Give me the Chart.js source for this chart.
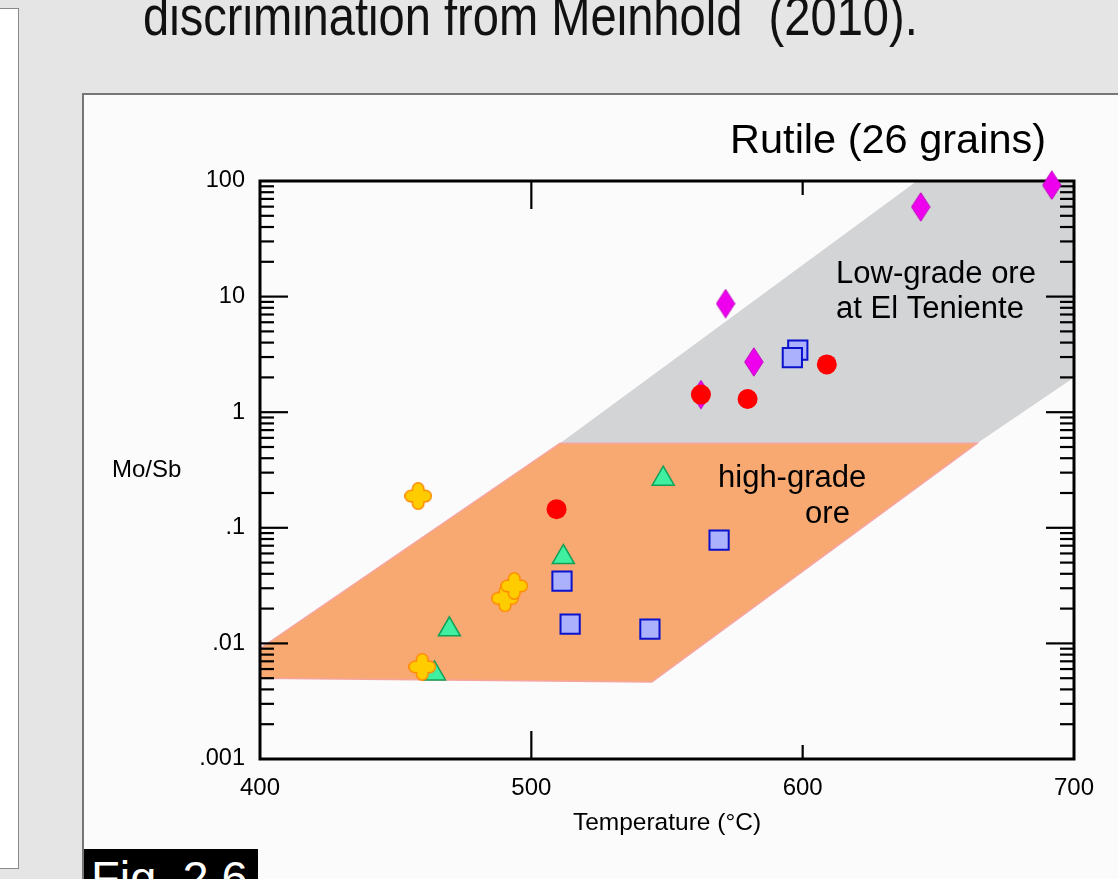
<!DOCTYPE html>
<html><head><meta charset="utf-8">
<script src="https://cdn.jsdelivr.net/npm/chart.js@4.4.1/dist/chart.umd.min.js"></script>
<style>
html,body{margin:0;padding:0;width:1118px;height:879px;overflow:hidden;background:#e5e5e5;font-family:"Liberation Sans",Arial,sans-serif}
#leftpanel{position:absolute;left:-2px;top:8px;width:19px;height:859px;background:#fff;border:1px solid #8a8a8a}
#panel{position:absolute;left:82px;top:93px;width:1100px;height:900px;background:#fbfbfb;border-left:2px solid #767676;border-top:2px solid #767676}
#heading{position:absolute;left:143px;top:-12px;font-size:56px;line-height:56px;color:#111;white-space:pre;transform:scaleX(0.841);transform-origin:0 0}
#fig{position:absolute;left:84px;top:849px;width:174px;height:40px;background:#000;overflow:hidden}
#fig span{position:absolute;left:7px;top:5px;color:#fff;font-size:47px;line-height:47px;white-space:pre}
#wrap{position:absolute;left:0;top:0;width:1118px;height:879px}
</style></head>
<body>
<div id="leftpanel"></div>
<div id="heading">discrimination from Meinhold  (2010).</div>
<div id="panel"></div>
<div id="fig"><span>Fig. 2.6</span></div>
<div id="wrap"><canvas id="c" width="1118" height="879"></canvas></div>
<script>
// ---------- data ----------
const chartTitle = 'Rutile (26 grains)';
const xAxisTitle = 'Temperature (°C)';
const yAxisTitle = 'Mo/Sb';
const xTickValues = [400, 500, 600, 700];
const xTickLabels = ['400', '500', '600', '700'];
const yTickValues = [0.001, 0.01, 0.1, 1, 10, 100];
const yTickLabels = ['.001', '.01', '.1', '1', '10', '100'];

// red circles
const redT = [562.5, 579.7, 608.9, 509.3];
const redR = [1.42, 1.30, 2.59, 0.145];
// magenta diamonds
const magT = [562.5, 571.6, 582.0, 643.5, 691.8];
const magR = [1.42, 8.7, 2.72, 59.7, 92.0];
// blue squares
const bluT = [598.2, 596.2, 569.2, 511.3, 514.3, 543.7];
const bluR = [3.44, 2.97, 0.0783, 0.0345, 0.0147, 0.0133];
// green triangles
const grnT = [548.6, 511.8, 469.8, 464.3];
const grnR = [0.265, 0.0557, 0.0132, 0.00548];
// orange crosses
const orgT = [458.3, 490.3, 493.7, 459.8];
const orgR = [0.188, 0.0245, 0.0314, 0.00626];

// field polygons
const lowGradeT = [510.6, 642.1, 700, 700, 664.3, 510.6];
const lowGradeR = [0.54, 100, 100, 2.0, 0.54, 0.54];
const highGradeT = [400, 510.6, 664.3, 544.4, 400, 400];
const highGradeR = [0.009, 0.54, 0.54, 0.00464, 0.005, 0.009];

// annotations (data coordinates)
const lowGradeLabel = ['Low-grade ore', 'at El Teniente'];
const lowGradeLabelT = 612.3, lowGradeLabelR = [13.06, 6.5];
const highGradeLabel = ['high-grade', 'ore'];
const highGradeLabelT = [568.8, 600.9], highGradeLabelR = [0.2244, 0.1096];

// ---------- helpers ----------
const FONT = '"Liberation Sans", Arial, sans-serif';
const zip = (a, b) => a.map((x, i) => ({x: x, y: b[i]}));

function makeDiamond() {
  const c = document.createElement('canvas'); c.width = 20; c.height = 30;
  const g = c.getContext('2d');
  g.beginPath(); g.moveTo(10, 0.8); g.lineTo(19.2, 15); g.lineTo(10, 29.2); g.lineTo(0.8, 15); g.closePath();
  g.fillStyle = '#ee00ee'; g.fill(); g.strokeStyle = '#c000c0'; g.lineWidth = 1; g.stroke();
  return c;
}
function rr(g, x, y, w, h, r) {
  g.moveTo(x + r, y); g.lineTo(x + w - r, y); g.arc(x + w - r, y + r, r, -Math.PI / 2, 0);
  g.lineTo(x + w, y + h - r); g.arc(x + w - r, y + h - r, r, 0, Math.PI / 2);
  g.lineTo(x + r, y + h); g.arc(x + r, y + h - r, r, Math.PI / 2, Math.PI);
  g.lineTo(x, y + r); g.arc(x + r, y + r, r, Math.PI, Math.PI * 1.5); g.closePath();
}
function makeCross() {
  const c = document.createElement('canvas'); c.width = 28; c.height = 28;
  const g = c.getContext('2d');
  const shape = () => { g.beginPath(); rr(g, 1.5, 9, 25, 10, 5); rr(g, 9, 1.5, 10, 25, 5); };
  shape(); g.strokeStyle = '#ff8a00'; g.lineWidth = 3; g.stroke();
  shape(); g.fillStyle = '#ffcc00'; g.fill('nonzero');
  return c;
}
const diamondImg = makeDiamond();
const crossImg = makeCross();

const HIGH_INDEX = 1;
const framePlugin = {
  id: 'frame',
  afterDatasetDraw(chart, args) {
    if (args.index !== HIGH_INDEX) return;
    const ctx = chart.ctx, a = chart.chartArea, xs = chart.scales.x, ys = chart.scales.y;
    ctx.save();
    ctx.strokeStyle = '#000'; ctx.lineCap = 'butt';
    ctx.lineWidth = 2.2;
    const line = (x1, y1, x2, y2) => { ctx.beginPath(); ctx.moveTo(x1, y1); ctx.lineTo(x2, y2); ctx.stroke(); };
    for (let d = 0; d < yTickValues.length - 1; d++) {
      const dec = yTickValues[d];
      for (let m = 2; m <= 9; m++) {
        const p = ys.getPixelForValue(dec * m);
        line(a.left, p, a.left + 14, p); line(a.right, p, a.right - 14, p);
      }
      if (d > 0) {
        const p = ys.getPixelForValue(dec);
        line(a.left, p, a.left + 28, p); line(a.right, p, a.right - 28, p);
      }
    }
    [[500, 28], [600, 14]].forEach(([v, len]) => {
      const p = xs.getPixelForValue(v);
      line(p, a.bottom, p, a.bottom - len); line(p, a.top, p, a.top + len);
    });
    ctx.lineWidth = 3;
    ctx.strokeRect(a.left, a.top, a.right - a.left, a.bottom - a.top);
    ctx.restore();
  }
};

const textPlugin = {
  id: 'texts',
  afterDraw(chart) {
    const ctx = chart.ctx, a = chart.chartArea, xs = chart.scales.x, ys = chart.scales.y;
    ctx.save();
    ctx.fillStyle = '#000'; ctx.textBaseline = 'alphabetic';
    ctx.font = '41.5px ' + FONT; ctx.textAlign = 'right';
    ctx.fillText(chartTitle, xs.getPixelForValue(689.7), a.top - 28);
    ctx.font = '31px ' + FONT; ctx.textAlign = 'left';
    lowGradeLabel.forEach((t, i) => ctx.fillText(t, xs.getPixelForValue(lowGradeLabelT), ys.getPixelForValue(lowGradeLabelR[i])));
    highGradeLabel.forEach((t, i) => ctx.fillText(t, xs.getPixelForValue(highGradeLabelT[i]), ys.getPixelForValue(highGradeLabelR[i])));
    ctx.font = '24px ' + FONT; ctx.textAlign = 'left';
    ctx.fillText(yAxisTitle, a.left - 148, ys.getPixelForValue(0.274));
    ctx.restore();
  }
};

new Chart(document.getElementById('c'), {
  type: 'scatter',
  data: {
    datasets: [
      { label: 'Low-grade field', data: zip(lowGradeT, lowGradeR), showLine: true, fill: 'shape',
        backgroundColor: '#d3d4d6', borderColor: 'rgba(0,0,0,0)', borderWidth: 0, pointRadius: 0, tension: 0, order: 20 },
      { label: 'High-grade field', data: zip(highGradeT, highGradeR), showLine: true, fill: 'shape',
        backgroundColor: '#f8a971', borderColor: '#f6a4a0', borderWidth: 1.5, pointRadius: 0, tension: 0, order: 10 },
      { label: 'circles', data: zip(redT, redR), pointStyle: 'circle', pointRadius: 10, clip: false,
        pointBackgroundColor: '#ff0000', pointBorderColor: '#ff0000', pointBorderWidth: 0, order: 1 },
      { label: 'crosses', data: zip(orgT, orgR), pointStyle: crossImg, pointRadius: 13, clip: false, order: 2 },
      { label: 'diamonds', data: zip(magT, magR), pointStyle: diamondImg, pointRadius: 14, clip: false, order: 3 },
      { label: 'triangles', data: zip(grnT, grnR), pointStyle: 'triangle', pointRadius: 12.7, clip: false,
        pointBackgroundColor: '#40f0a0', pointBorderColor: '#10a058', pointBorderWidth: 1.5, order: 4 },
      { label: 'squares', data: zip(bluT, bluR), pointStyle: 'rect', pointRadius: 13.6, clip: false,
        pointBackgroundColor: '#abb1fd', pointBorderColor: '#0a12cc', pointBorderWidth: 2, order: 5 }
    ]
  },
  options: {
    responsive: false, animation: false,
    layout: { padding: { top: 181, right: 44, left: 0, bottom: 0 } },
    plugins: { legend: { display: false }, tooltip: { enabled: false }, title: { display: false } },
    scales: {
      x: {
        type: 'linear', position: 'bottom', min: 400, max: 700,
        afterFit: s => { s.height = 120; },
        afterBuildTicks: s => { s.ticks = xTickValues.map(v => ({value: v})); },
        grid: { display: false, drawTicks: false }, border: { display: false },
        ticks: { autoSkip: false, maxRotation: 0, padding: 15, color: '#000', font: { family: FONT, size: 24 },
                 callback: (v, i) => xTickLabels[i] },
        title: { display: true, text: xAxisTitle, color: '#000', font: { family: FONT, size: 24.5 }, padding: { top: 0, bottom: 41 } }
      },
      y: {
        type: 'logarithmic', min: 0.001, max: 100,
        afterFit: s => { s.width = 260; },
        afterBuildTicks: s => { s.ticks = yTickValues.map(v => ({value: v})); },
        grid: { display: false, drawTicks: false }, border: { display: false },
        ticks: { autoSkip: false, padding: 15, color: '#000', font: { family: FONT, size: 23.5 },
                 callback: (v, i) => yTickLabels[i] }
      }
    }
  },
  plugins: [framePlugin, textPlugin]
});
</script>
</body></html>
